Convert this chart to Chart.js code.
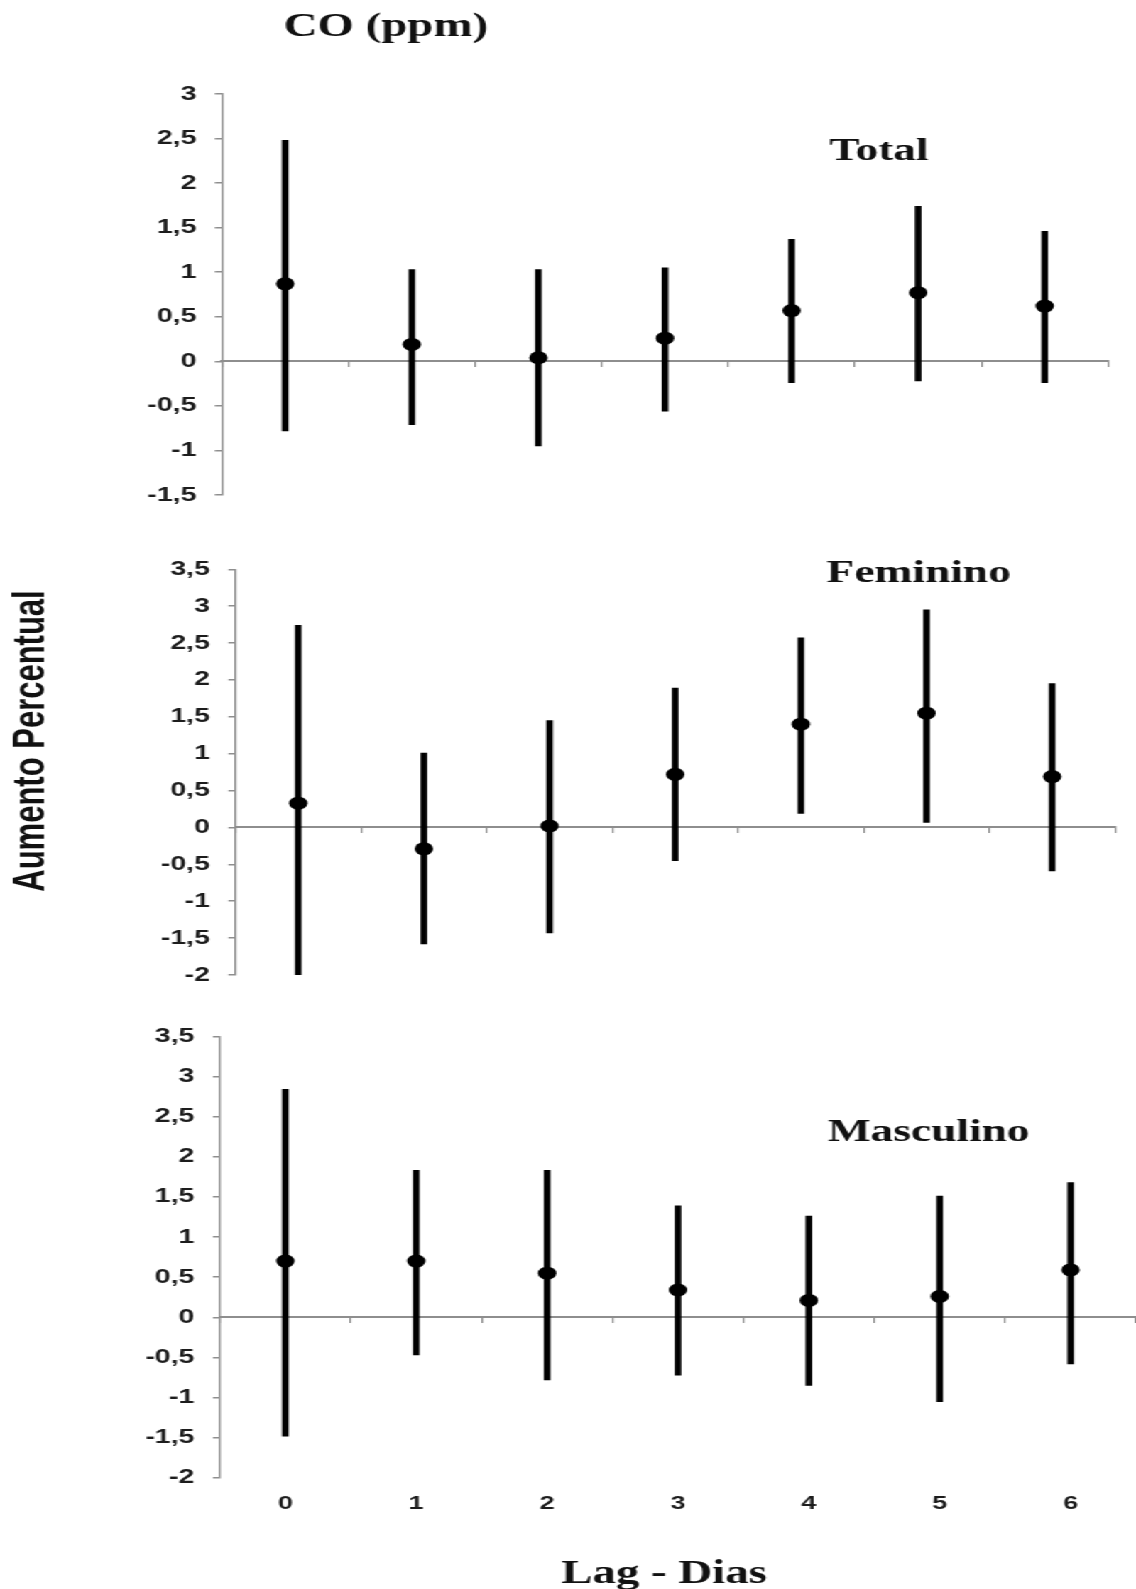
<!DOCTYPE html>
<html lang="pt">
<head>
<meta charset="utf-8">
<title>CO (ppm) - Aumento Percentual por Lag</title>
<script src="https://cdn.jsdelivr.net/npm/chart.js@4/dist/chart.umd.min.js"></script>
<style>
  html, body { margin: 0; padding: 0; background: #fff; overflow: hidden; }
  /* the figure is laid out 800px wide and widened to the page width */
  #fig { position: absolute; left: 0; top: 0; width: 800px; height: 1589px;
         transform: scaleX(1.42); transform-origin: 0 0; }
  #fig canvas { position: absolute; left: 0; }
</style>
</head>
<body>
<div id="fig">
  <canvas id="cTotal" width="800" height="520" style="top:0px"></canvas>
  <canvas id="cFem" width="800" height="470" style="top:530px"></canvas>
  <canvas id="cMasc" width="800" height="589" style="top:1000px"></canvas>
</div>
<script>
// Lags (days)
const lags = ['0', '1', '2', '3', '4', '5', '6'];

// Total
const totalEst  = [0.87, 0.19, 0.04, 0.26, 0.57, 0.77, 0.62];
const totalLow  = [-0.78, -0.71, -0.95, -0.56, -0.24, -0.22, -0.24];
const totalHigh = [2.48, 1.03, 1.03, 1.05, 1.37, 1.74, 1.46];

// Feminino
const femEst  = [0.33, -0.29, 0.02, 0.72, 1.40, 1.55, 0.69];
const femLow  = [-2.00, -1.58, -1.43, -0.45, 0.19, 0.07, -0.59];
const femHigh = [2.74, 1.01, 1.45, 1.89, 2.57, 2.95, 1.95];

// Masculino
const mascEst  = [0.70, 0.70, 0.55, 0.34, 0.21, 0.26, 0.59];
const mascLow  = [-1.48, -0.47, -0.78, -0.72, -0.85, -1.05, -0.58];
const mascHigh = [2.84, 1.83, 1.83, 1.39, 1.26, 1.51, 1.68];

// y-axis ranges [min, max] and step
const totalRange = [-1.5, 3];
const sexRange = [-2, 3.5];
const yStep = 0.5;

const AXIS = '#8e8e8e';
const INK = '#111111';
const SANS = '"Liberation Sans", Arial, sans-serif';
const SERIF = '"Liberation Serif", "Times New Roman", serif';

// free text drawn on a chart (titles, panel names)
const panelText = {
  id: 'panelText',
  afterDraw(chart, args, opts) {
    const ctx = chart.ctx;
    (opts.items || []).forEach(t => {
      ctx.save();
      ctx.font = t.font;
      ctx.fillStyle = t.color || INK;
      ctx.textAlign = t.align || 'center';
      ctx.textBaseline = 'alphabetic';
      ctx.translate(t.x, t.y);
      if (t.rotate) ctx.rotate(t.rotate);
      ctx.fillText(t.text, 0, 0);
      ctx.restore();
    });
  }
};

const fmt = v => String(Math.round(v * 10) / 10).replace('.', ',');

// horizontal axes keep the full plot width (no label overhang padding)
const noSidePadding = s => { s.paddingLeft = 0; s.paddingRight = 0; };

function makePanel(id, est, low, high, range, padding, texts, withLabels) {
  const scales = {
    x: {
      type: 'category',
      position: { y: 0 },
      offset: true,
      grid: { offset: true, drawOnChartArea: false, drawTicks: true, tickLength: 5, color: AXIS, lineWidth: 1.2 },
      border: { display: true, color: AXIS, width: 2 },
      ticks: { display: false },
      afterFit: s => { s.height = 0; noSidePadding(s); }
    },
    y: {
      type: 'linear',
      min: range[0],
      max: range[1],
      afterFit: s => { s.width = 70; },
      ticks: {
        stepSize: yStep,
        padding: 13,
        color: '#1c1c1c',
        font: { family: SANS, weight: 'bold', size: 20 },
        callback: fmt
      },
      grid: { drawOnChartArea: false, drawTicks: true, tickLength: 5, color: AXIS, lineWidth: 1.5 },
      border: { display: true, color: AXIS, width: 1.4 }
    }
  };
  if (withLabels) {
    scales.xLab = {
      type: 'category',
      position: 'bottom',
      offset: true,
      grid: { display: false, drawTicks: false },
      border: { display: false },
      ticks: { padding: 15, color: '#1c1c1c', font: { family: SANS, weight: 'bold', size: 19 } },
      afterFit: s => { s.height = 40; noSidePadding(s); }
    };
  }
  return new Chart(document.getElementById(id), {
    type: 'bar',
    data: {
      labels: lags,
      datasets: [
        {
          type: 'line',
          label: 'Estimativa',
          data: est,
          showLine: false,
          pointRadius: 6.5,
          pointHoverRadius: 6.5,
          pointBackgroundColor: '#000',
          pointBorderWidth: 0,
          xAxisID: 'x',
          yAxisID: 'y',
          order: 0
        },
        {
          type: 'bar',
          label: 'IC 95%',
          data: lags.map((_, i) => [low[i], high[i]]),
          backgroundColor: '#000',
          borderWidth: 0,
          borderSkipped: false,
          barThickness: 4,
          xAxisID: 'x',
          yAxisID: 'y',
          order: 1
        }
      ]
    },
    options: {
      responsive: false,
      devicePixelRatio: 1,
      animation: false,
      layout: { padding, autoPadding: false },
      plugins: {
        legend: { display: false },
        tooltip: { enabled: false },
        panelText: { items: texts }
      },
      scales
    },
    plugins: [panelText]
  });
}

makePanel('cTotal', totalEst, totalLow, totalHigh, totalRange,
  { left: 86.3, right: 19.7, top: 94, bottom: 21 },
  [
    { text: 'CO (ppm)', x: 271.7, y: 35.5, font: 'bold 33px ' + SERIF },
    { text: 'Total', x: 619, y: 160, font: 'bold 32px ' + SERIF }
  ], false);

makePanel('cFem', femEst, femLow, femHigh, sexRange,
  { left: 95.8, right: 14.8, top: 39.3, bottom: 23.3 },
  [
    { text: 'Feminino', x: 647, y: 52, font: 'bold 32px ' + SERIF },
    { text: 'Aumento Percentual', x: 30.5, y: 211, rotate: -Math.PI / 2, font: 'bold 31px ' + SANS }
  ], false);

makePanel('cMasc', mascEst, mascLow, mascHigh, sexRange,
  { left: 84.9, right: 0, top: 36.4, bottom: 71.2 },
  [
    { text: 'Masculino', x: 654, y: 141, font: 'bold 32px ' + SERIF },
    { text: 'Lag - Dias', x: 467.7, y: 582.7, font: 'bold 33px ' + SERIF }
  ], true);
</script>
</body>
</html>
